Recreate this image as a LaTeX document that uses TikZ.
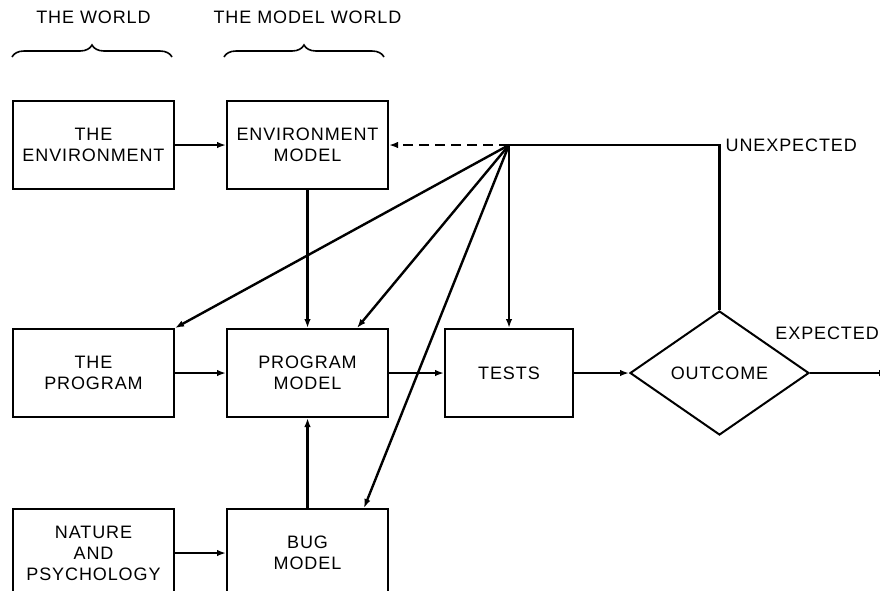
\documentclass[tikz,border=0pt]{standalone}
\usepackage{fontspec}
\setmainfont[LetterSpace=5]{Liberation Sans}
\usetikzlibrary{positioning,shapes.geometric,arrows.meta,decorations.pathreplacing}

\begin{document}
\begin{tikzpicture}[
    x=1pt, y=-1pt,
    node distance = 138pt and 51pt,
    font=\fontsize{18}{21}\selectfont,
    boxstyle/.style  = {draw,
                        line width=2pt,
                        minimum width=161pt,
                        minimum height=88pt,
                        inner sep=0pt,
                        align=center},
    decidestyle/.style = {diamond,
                        draw,
                        line width=2pt,
                        minimum width=179pt,
                        minimum height=124pt,
                        inner sep=0pt},
    bracestyle/.style = {line width=1.6pt,
                        decorate,
                        decoration={brace, amplitude=12pt}},
    arr/.style       = {line width=2.4pt,
                        -{Latex[length=9pt,width=6.5pt]}}
]
\useasboundingbox (0,0) rectangle (880,590);

\node (env) [boxstyle, anchor=north west] at (12,100) {THE\\ENVIRONMENT};
\node (envm) [boxstyle, right=of env] {ENVIRONMENT\\MODEL};
\node (prog) [boxstyle, below=of env] {THE\\PROGRAM};
\node (progm) [boxstyle, below=of envm] {PROGRAM\\MODEL};
\node (nature) [boxstyle, below=90pt of prog] {NATURE\\AND\\PSYCHOLOGY};
\node (bugm) [boxstyle, below=90pt of progm] {BUG\\MODEL};
\node (tests) [boxstyle, minimum width=128pt, right=55pt of progm] {TESTS};
\node (outcome) [decidestyle, right=55pt of tests] {OUTCOME};

\coordinate (hub) at (tests.north |- envm.east);
\coordinate (turn) at (outcome.north |- hub);
\coordinate [right=78pt of outcome] (exit);

% the two worlds
\draw[bracestyle] ([yshift=43pt]env.north west) -- ([yshift=43pt, xshift=-3pt]env.north east);
\draw[bracestyle] ([yshift=43pt, xshift=-2pt]envm.north west) -- ([yshift=43pt, xshift=-5pt]envm.north east);
\node (world) at ([yshift=83pt]env.north) {THE WORLD};
\node (mworld) at ([yshift=83pt]envm.north) {THE MODEL WORLD};

\draw[arr] (env) -- (envm);
\draw[arr] (envm) -- (progm);
\draw[arr] (prog) -- (progm);
\draw[arr] (progm) -- (tests);
\draw[arr] (tests) -- (outcome);
\draw[arr] (outcome) -- (exit);
\draw[arr] (nature) -- (bugm);
\draw[arr] (bugm) -- (progm);

% feedback
\draw[line width=2.4pt] (outcome.north) -- (turn) -- (hub);
\draw[arr, dash pattern=on 10pt off 6pt] (hub) -- (envm.east);
\draw[arr] (hub) -- (prog.north east);
\draw[arr] (hub) -- ([xshift=-32pt]progm.north east);
\draw[arr] (hub) -- ([xshift=-25pt]bugm.north east);
\draw[arr] (hub) -- (tests);

\node (unexp) [anchor=west, inner sep=0pt] at ([xshift=6pt]turn) {UNEXPECTED};
\node (expd) [anchor=east, inner sep=0pt] at (879,333) {EXPECTED};

\end{tikzpicture}
\end{document}
